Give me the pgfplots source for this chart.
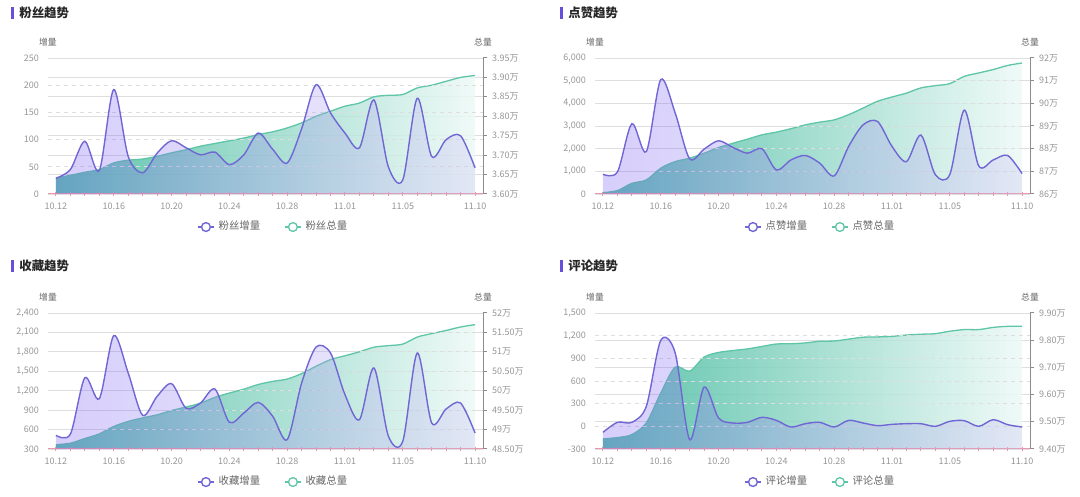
\documentclass[border=0pt]{standalone}
\usepackage{pgfplots}
\pgfplotsset{compat=1.18}
\usepackage{pgfplotstable}
\usepackage{fontspec}
\setmainfont{Noto Sans CJK SC}

\definecolor{pline}{RGB}{112,102,212}
\definecolor{gline}{RGB}{94,197,166}
\definecolor{pfillL}{RGB}{122,95,242}
\definecolor{pfillR}{RGB}{200,190,242}
\definecolor{gfillL}{RGB}{63,184,156}
\definecolor{gfillR}{RGB}{237,249,246}
\definecolor{pinkax}{RGB}{235,150,170}
\definecolor{rax}{RGB}{140,140,140}
\definecolor{gridc}{RGB}{222,222,222}
\definecolor{ticktext}{RGB}{150,150,150}
\definecolor{nametext}{RGB}{100,100,100}
\definecolor{tbar}{RGB}{100,80,220}

% x = day index (0 = 10.12 ... 29 = 11.10), inc = 增量, tot = 总量 (万)
\pgfplotstableread{
x inc tot
0 29 3.641
1 45 3.648
2 97 3.656
3 43 3.663
4 192 3.680
5 69 3.687
6 39 3.690
7 75 3.697
8 98 3.706
9 85 3.714
10 72 3.723
11 77 3.730
12 54 3.737
13 72 3.744
14 112 3.753
15 82 3.760
16 57 3.770
17 120 3.783
18 201 3.800
19 149 3.813
20 112 3.826
21 85 3.834
22 173 3.850
23 50 3.854
24 26 3.856
25 176 3.873
26 69 3.880
27 100 3.890
28 107 3.900
29 48 3.905
}\fans

\pgfplotstableread{
x inc tot
0 870 86.06
1 970 86.15
2 3100 86.47
3 1870 86.62
4 5050 87.14
5 3570 87.43
6 1550 87.58
7 1980 87.80
8 2350 88.05
9 2050 88.24
10 1800 88.42
11 2000 88.61
12 1060 88.73
13 1500 88.88
14 1700 89.05
15 1360 89.17
16 800 89.27
17 2100 89.50
18 3050 89.79
19 3200 90.09
20 2100 90.28
21 1430 90.45
22 2600 90.68
23 850 90.78
24 860 90.87
25 3700 91.19
26 1240 91.34
27 1500 91.49
28 1700 91.67
29 900 91.78
}\likes

\pgfplotstableread{
x inc tot
0 511 48.61
1 530 48.65
2 1400 48.77
3 1077 48.89
4 2050 49.08
5 1473 49.21
6 820 49.30
7 1113 49.38
8 1309 49.49
9 930 49.58
10 1010 49.68
11 1226 49.83
12 712 49.94
13 856 50.04
14 1020 50.16
15 804 50.24
16 444 50.30
17 1319 50.44
18 1875 50.63
19 1782 50.80
20 1139 50.90
21 753 51.00
22 1551 51.12
23 500 51.16
24 420 51.20
25 1782 51.38
26 701 51.47
27 918 51.55
28 1010 51.64
29 547 51.70
}\favs

\pgfplotstableread{
x inc tot
0 -79 9.437
1 53 9.442
2 53 9.453
3 265 9.496
4 1138 9.606
5 970 9.701
6 -176 9.686
7 520 9.738
8 110 9.755
9 44 9.762
10 53 9.768
11 119 9.777
12 79 9.786
13 -9 9.787
14 35 9.790
15 53 9.796
16 -9 9.797
17 79 9.804
18 44 9.811
19 9 9.812
20 26 9.814
21 35 9.819
22 35 9.822
23 0 9.824
24 66 9.833
25 75 9.839
26 0 9.839
27 88 9.847
28 22 9.851
29 -9 9.851
}\comments

\pgfplotsset{
  base/.style={scale only axis, width=217.5pt, height=68pt,
    xmin=-0.55, xmax=29.55, anchor=south west, clip mode=individual,
    tick label style={font=\fontsize{4.5}{5.4}\selectfont, text=ticktext}},
  rightax/.style={base, hide x axis, axis y line*=right,
    y axis line style={draw=rax, line width=0.5pt},
    ytick style={draw=rax, line width=0.5pt}, tick align=outside, major tick length=2pt,
    ymajorgrids, major grid style={draw=gridc, line width=0.4pt},
    yticklabel style={xshift=-1pt},
    after end axis/.append code={\node[font=\fontsize{4.4}{5}\selectfont, text=nametext]
      at ([yshift=8pt]rel axis cs:1,1) {总量};}},
  leftax/.style={base, axis y line*=left, axis x line*=bottom,
    y axis line style={draw=none}, ytick style={draw=none},
    x axis line style={draw=pinkax, line width=0.5pt},
    xtick={0,4,8,12,16,20,24,29},
    xticklabels={10.12,10.16,10.20,10.24,10.28,11.01,11.05,11.10},
    minor xtick={0,...,29},
    major x tick style={draw=pinkax, line width=0.5pt},
    minor x tick style={draw=pinkax, line width=0.5pt},
    tick align=center, major tick length=2pt, minor tick length=2pt,
    ymajorgrids, major grid style={draw=gridc, line width=0.4pt, dash pattern=on 2pt off 2pt},
    legend style={at={(0.52,-0.243)}, anchor=center, draw=none, fill=none,
      font=\fontsize{5.2}{6}\selectfont, text=nametext, inner sep=0pt,
      /tikz/every even column/.append style={column sep=10pt}},
    legend columns=2,
    legend image code/.code={\draw[##1] (0pt,0pt) -- (8pt,0pt);
      \draw[##1, fill=white] (4pt,0pt) circle (2.2pt);},
    after end axis/.append code={\node[font=\fontsize{4.4}{5}\selectfont, text=nametext]
      at ([yshift=8pt]rel axis cs:0,1) {增量};}},
  gfill/.style={draw=none, left color=gfillL, right color=gfillR, fill opacity=0.85, smooth, forget plot},
  gln/.style={draw=gline, line width=0.65pt, smooth},
  pfill/.style={draw=none, left color=pfillL, right color=pfillR, fill opacity=0.3, smooth, forget plot},
  pln/.style={draw=pline, line width=0.7pt, smooth},
  p1L/.style={ymin=0, ymax=250, ytick={0,50,100,150,200,250}, yticklabels={0,50,100,150,200,250}},
  p1R/.style={ymin=3.6, ymax=3.95, ytick={3.6,3.65,3.7,3.75,3.8,3.85,3.9,3.95},
    yticklabels={3.60万,3.65万,3.70万,3.75万,3.80万,3.85万,3.90万,3.95万}},
  p2L/.style={ymin=0, ymax=6000, ytick={0,1000,2000,3000,4000,5000,6000},
    yticklabels={0,{1,000},{2,000},{3,000},{4,000},{5,000},{6,000}}},
  p2R/.style={ymin=86, ymax=92, ytick={86,87,88,89,90,91,92},
    yticklabels={86万,87万,88万,89万,90万,91万,92万}},
  p3L/.style={ymin=300, ymax=2400, ytick={300,600,900,1200,1500,1800,2100,2400},
    yticklabels={300,600,900,{1,200},{1,500},{1,800},{2,100},{2,400}}},
  p3R/.style={ymin=48.5, ymax=52, ytick={48.5,49,49.5,50,50.5,51,51.5,52},
    yticklabels={48.50万,49万,49.50万,50万,50.50万,51万,51.50万,52万}},
  % panel 4 left axis is shifted by +300 so the area closes at the axis floor
  p4L/.style={ymin=0, ymax=1800, ytick={0,300,600,900,1200,1500,1800},
    yticklabels={-300,0,300,600,900,{1,200},{1,500}}},
  p4R/.style={ymin=9.4, ymax=9.9, ytick={9.4,9.5,9.6,9.7,9.8,9.9},
    yticklabels={9.40万,9.50万,9.60万,9.70万,9.80万,9.90万}},
}

% #1 position, #2 table, #3 left style, #4 right style, #5 name, #6 shift of left values
\newcommand{\panel}[6]{%
  \begin{axis}[rightax, at={#1}, #4]
    \addplot[gfill] table[x=x, y=tot]{#2} \closedcycle;
    \addplot[gln, forget plot] table[x=x, y=tot]{#2};
  \end{axis}
  \begin{axis}[leftax, at={#1}, #3]
    \addplot[pfill] table[x=x, y expr=\thisrow{inc}+#6]{#2} \closedcycle;
    \addplot[pln, forget plot] table[x=x, y expr=\thisrow{inc}+#6]{#2};
    \addlegendimage{pln}
    \addlegendentry{#5增量}
    \addlegendimage{gln}
    \addlegendentry{#5总量}
  \end{axis}}

\newcommand{\ttl}[1]{{\color{tbar}\rule[-0.5pt]{1.4pt}{5.6pt}}\hspace{2.6pt}{\bfseries #1}}

\begin{document}
\begin{tikzpicture}
  \path[use as bounding box] (0,0) rectangle (540pt,248.5pt);
  \panel{(24pt,151.5pt)}{\fans}{p1L}{p1R}{粉丝}{0}
  \panel{(297.5pt,151.5pt)}{\likes}{p2L}{p2R}{点赞}{0}
  \panel{(24pt,24pt)}{\favs}{p3L}{p3R}{收藏}{0}
  \panel{(297.5pt,24pt)}{\comments}{p4L}{p4R}{评论}{300}
  \begin{scope}[every node/.style={anchor=west, inner sep=0pt,
      font=\fontsize{6.2}{7}\selectfont, text=black!85}]
    \node at (5.5pt,242pt) {\ttl{粉丝趋势}};
    \node at (280pt,242pt) {\ttl{点赞趋势}};
    \node at (5.5pt,115.5pt) {\ttl{收藏趋势}};
    \node at (280pt,115.5pt) {\ttl{评论趋势}};
  \end{scope}
\end{tikzpicture}
\end{document}
